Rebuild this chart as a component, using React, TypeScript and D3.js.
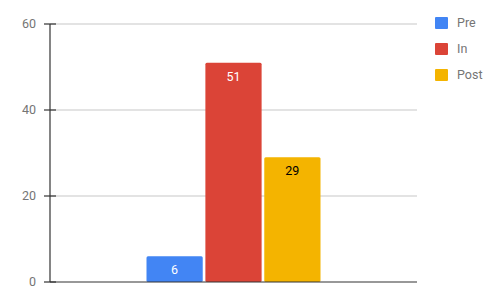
import React from "react";
import * as d3 from "d3";

const categories = [""];
const seriesNames = ["Pre", "In", "Post"];
const seriesValues = [6, 51, 29];
const seriesColors = ["#4285f4", "#db4437", "#f4b400"];
const labelColors = ["#ffffff", "#ffffff", "#000000"];
const yTicks = [0, 20, 40, 60];

export default function App() {
  const W = 498, H = 305;
  const left = 50, right = 417, top = 24, bottom = 282;
  const y = d3.scaleLinear().domain([0, 60]).range([bottom, top]);
  const x0 = d3.scaleBand().domain(categories).range([left, right]).paddingInner(0).paddingOuter(0);
  const groupW = 174;
  const gx = (x0(categories[0]) as number) + x0.bandwidth() / 2 - groupW / 2;
  const x1 = d3.scaleBand().domain(seriesNames).range([gx, gx + groupW]).paddingInner(0.045).paddingOuter(0);
  const font = "Roboto, sans-serif";
  return (
    <svg width={W} height={H} style={{ position: "absolute", left: 0, top: 0 }}>
      <rect width={W} height={H} fill="#fff" />
      {yTicks.map((t) => (
        <g key={t}>
          {t !== 0 && <line x1={left} x2={right} y1={y(t)} y2={y(t)} stroke="#dadada" strokeWidth={1.4} />}
          <line x1={left - 6} x2={left + 6} y1={y(t)} y2={y(t)} stroke="#333" strokeWidth={1.2} />
          <text x={left - 14} y={y(t)} dy="0.35em" textAnchor="end" fontFamily={font} fontSize={12.5} fill="#757575">{t}</text>
        </g>
      ))}
      {seriesNames.map((s, i) => {
        const bx = x1(s) as number;
        const by = y(seriesValues[i]);
        return (
          <g key={s}>
            <rect x={bx} y={by} width={x1.bandwidth()} height={bottom - by} fill={seriesColors[i]} rx={1.5} />
            <text x={bx + x1.bandwidth() / 2} y={by + 13.5} dy="0.35em" textAnchor="middle" fontFamily={font} fontSize={12.5} fill={labelColors[i]}>{seriesValues[i]}</text>
          </g>
        );
      })}
      <line x1={left} x2={left} y1={top} y2={bottom} stroke="#333" strokeWidth={1.2} />
      <line x1={left} x2={right} y1={bottom} y2={bottom} stroke="#333" strokeWidth={1.2} />
      {seriesNames.map((s, i) => (
        <g key={s} transform={`translate(435,${17 + i * 26})`}>
          <rect width={13} height={12} fill={seriesColors[i]} rx={1} />
          <text x={22} y={6} dy="0.35em" fontFamily={font} fontSize={12.5} fill="#757575">{s}</text>
        </g>
      ))}
    </svg>
  );
}
